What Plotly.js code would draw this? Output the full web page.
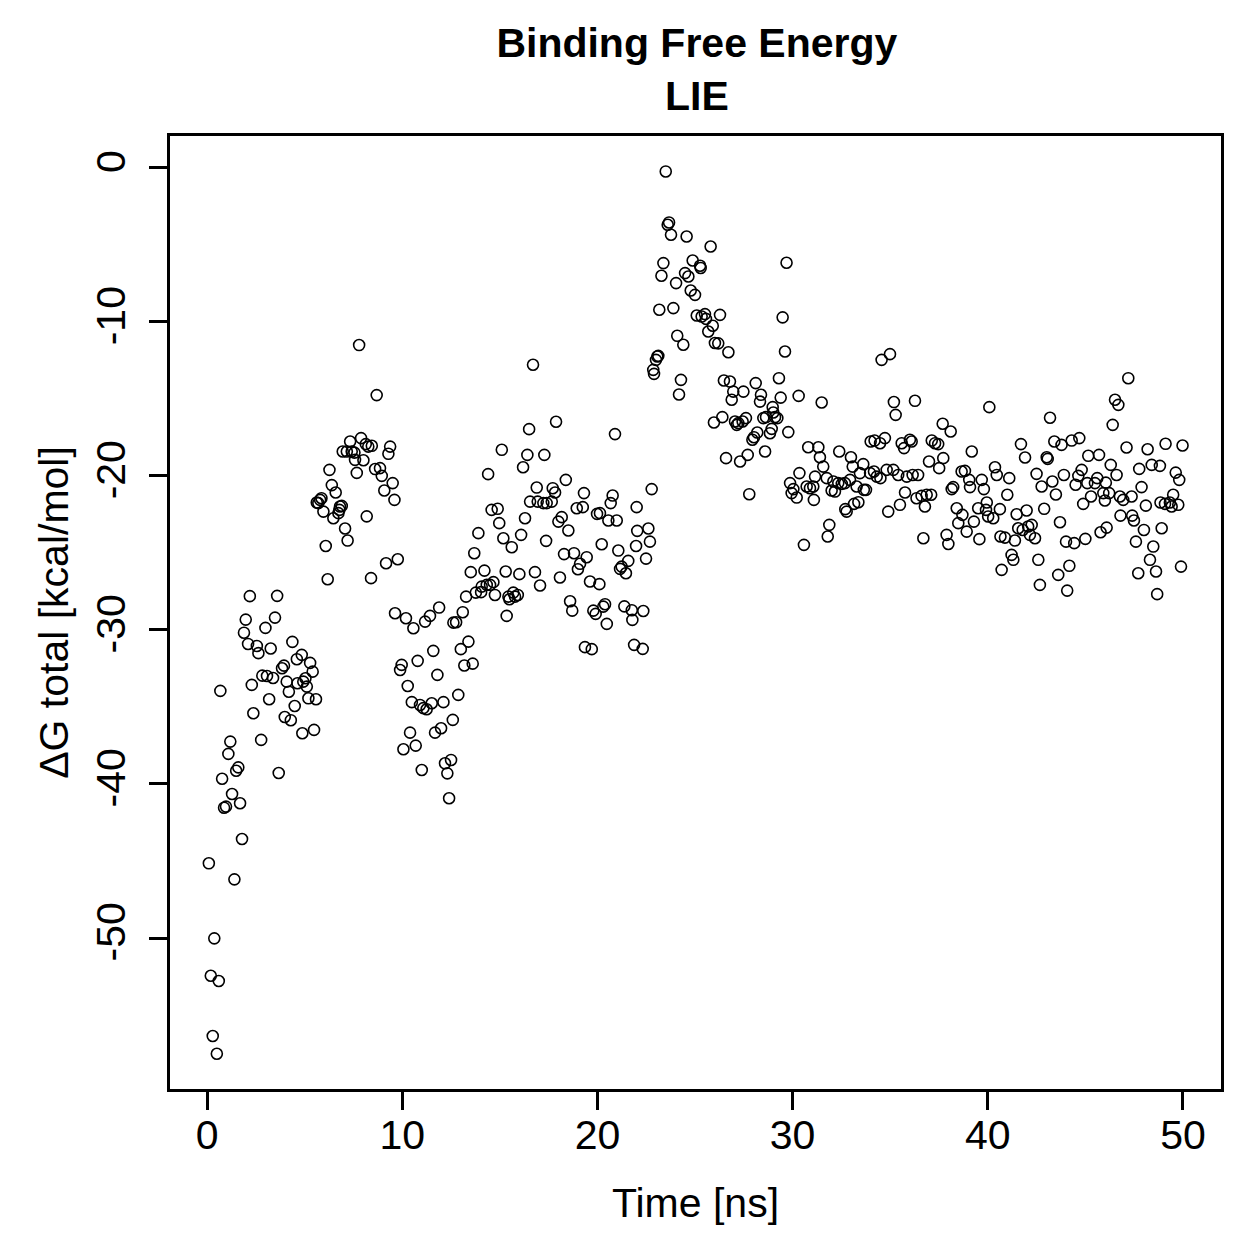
<!DOCTYPE html>
<html>
<head>
<meta charset="utf-8">
<script src="https://cdn.plot.ly/plotly-3.0.1.min.js"></script>
<style>html,body{margin:0;padding:0;background:#fff;}#chart{width:1259px;height:1259px;}</style>
</head>
<body>
<div id="chart"></div>
<script>
// Time [ns]
const time_ns = [
0.09,0.19,0.29,0.37,0.50,0.60,0.68,0.77,0.87,0.97,1.09,1.19,1.28,1.40,1.49,1.60,1.69,1.79,1.89,1.98,
2.10,2.19,2.29,2.37,2.55,2.63,2.77,2.83,2.99,3.07,3.18,3.26,3.38,3.48,3.59,3.67,3.84,3.94,3.98,4.08,
4.19,4.29,4.37,4.49,4.60,4.63,4.85,4.88,4.93,5.04,5.11,5.19,5.28,5.41,5.48,5.58,
5.62,5.70,5.79,5.86,5.96,6.08,6.18,6.27,6.39,6.47,6.59,6.73,6.78,6.81,6.90,6.95,7.07,7.16,7.20,7.33,
7.41,7.55,7.58,7.67,7.79,7.89,8.01,8.13,8.18,8.26,8.40,8.44,8.61,8.69,8.86,8.95,9.08,9.17,9.29,9.38,
9.51,9.60,9.63,9.77,
9.89,9.97,10.06,10.19,10.28,10.40,10.49,10.57,10.69,10.79,10.91,11.00,11.08,11.17,11.25,11.42,11.51,11.59,11.68,11.80,
11.89,11.99,12.11,12.19,12.31,12.40,12.50,12.59,12.62,12.76,12.87,13.00,13.10,13.18,13.27,13.39,13.51,13.61,13.69,13.77,
13.90,14.04,14.07,14.21,14.33,14.40,14.50,14.58,14.67,14.75,14.89,14.97,15.10,15.18,15.30,15.35,15.44,15.49,15.61,15.69,
15.78,15.92,16.00,16.09,16.19,16.29,16.41,16.50,16.55,16.70,16.80,16.89,16.94,17.06,17.23,17.28,17.37,17.40,17.66,17.71,
17.83,17.88,18.00,18.08,18.17,18.29,18.38,18.51,18.60,18.71,18.80,18.94,19.00,19.11,19.25,19.31,19.36,19.45,19.62,19.71,
19.79,19.91,19.98,20.10,20.13,20.22,20.30,20.39,20.48,20.56,20.68,20.78,20.90,20.99,21.07,21.16,21.24,21.38,21.46,21.58,
21.76,21.79,21.88,21.98,22.01,22.04,22.32,22.35,22.49,22.61,22.69,22.78,22.86,22.90,23.00,23.07,23.12,23.17,23.28,23.38,
23.50,23.60,23.67,23.77,23.89,24.03,24.09,24.18,24.28,24.40,24.49,24.57,24.66,24.78,24.88,25.00,25.09,25.26,25.29,25.34,
25.51,25.56,25.68,25.80,25.91,25.97,26.02,26.19,26.28,26.40,26.48,26.59,26.71,26.79,26.88,26.96,27.05,27.14,27.22,27.31,
27.44,27.48,27.61,27.70,27.78,27.94,28.02,28.11,28.19,28.33,28.38,28.50,28.59,28.64,28.84,28.93,28.98,29.01,29.10,29.22,
29.30,29.39,29.49,29.61,29.69,29.78,29.87,29.95,30.04,30.21,30.31,30.35,30.58,30.72,30.80,30.89,31.06,31.09,31.15,31.32,
31.40,31.49,31.57,31.75,31.80,31.88,32.00,32.09,32.17,32.34,32.39,32.52,32.68,32.70,32.77,32.94,32.99,33.08,33.15,33.28,
33.37,33.45,33.62,33.65,33.76,33.97,34.00,34.17,34.20,34.31,34.48,34.50,34.56,34.73,34.82,34.90,34.99,35.16,35.19,35.28,
35.41,35.50,35.59,35.71,35.76,35.85,36.01,36.10,36.15,36.27,36.35,36.43,36.61,36.70,36.78,36.87,36.99,37.13,37.10,37.30,
37.46,37.51,37.69,37.72,37.89,37.98,38.10,38.15,38.23,38.41,38.49,38.66,38.70,38.83,38.92,39.05,39.09,39.18,39.29,39.51,
39.57,39.69,39.80,39.91,39.95,40.02,40.08,40.28,40.37,40.46,40.62,40.65,40.71,40.88,41.00,41.10,41.22,41.31,41.39,41.48,
41.56,41.70,41.79,41.91,41.99,42.07,42.16,42.25,42.42,42.50,42.59,42.67,42.76,42.89,43.02,43.07,43.19,43.31,43.41,43.49,
43.61,43.70,43.78,43.90,44.01,44.07,44.18,44.30,44.43,44.50,44.64,44.69,44.81,44.89,45.00,45.10,45.15,45.29,45.49,45.61,
45.70,45.78,45.92,46.00,46.09,46.05,46.22,46.30,46.40,46.52,46.60,46.69,46.77,46.80,46.94,47.11,47.20,47.37,47.40,47.49,
47.59,47.71,47.76,47.88,48.00,48.10,48.19,48.31,48.40,48.48,48.62,48.68,48.82,48.85,48.91,49.08,49.11,49.33,49.42,49.50,
49.63,49.76,49.81,49.90,49.98
];
// Delta G total [kcal/mol]
const dG_total = [
-45.15,-52.45,-56.36,-50.02,-57.51,-52.79,-33.96,-39.66,-41.54,-41.47,-38.05,-37.25,-40.65,-46.19,-39.14,-38.92,-41.25,-43.57,-30.18,-29.33,
-30.91,-27.81,-33.57,-35.41,-31.04,-31.51,-37.14,-32.97,-29.87,-32.99,-34.50,-31.21,-33.12,-29.20,-27.79,-39.29,-32.49,-32.32,-35.65,-33.36,
-34.01,-35.86,-30.78,-34.94,-31.90,-33.46,-31.62,-36.71,-33.36,-33.14,-33.68,-34.44,-32.14,-32.71,-36.49,-34.50,
-21.73,-21.77,-21.56,-21.45,-22.32,-24.55,-26.71,-19.61,-20.60,-22.75,-21.08,-22.42,-22.21,-21.99,-21.95,-18.42,-23.42,-18.42,-24.20,-17.77,
-18.42,-18.49,-18.96,-19.81,-11.51,-17.55,-18.99,-17.94,-22.63,-18.10,-26.64,-18.05,-19.56,-14.76,-19.50,-20.00,-20.95,-25.67,-18.57,-18.10,
-20.47,-21.56,-28.92,-25.41,
-32.60,-32.27,-37.75,-29.24,-33.64,-36.67,-34.69,-29.89,-37.51,-32.01,-34.87,-39.09,-35.08,-29.46,-35.15,-29.09,-34.76,-31.36,-36.67,-32.92,
-28.55,-36.38,-34.69,-38.66,-39.31,-40.93,-38.44,-35.84,-29.53,-29.50,-34.22,-31.25,-28.85,-32.31,-27.84,-30.76,-26.25,-32.19,-25.02,-27.58,
-23.72,-27.55,-27.19,-26.15,-27.08,-19.89,-27.08,-22.21,-26.90,-27.73,-22.14,-23.07,-18.31,-24.05,-26.21,-29.09,-27.84,-28.01,-24.63,-27.58,
-27.84,-27.73,-26.38,-23.83,-19.44,-22.75,-18.64,-16.97,-21.67,-12.79,-26.25,-20.76,-21.67,-27.12,-21.77,-18.64,-24.22,-21.77,-21.67,-20.80,
-21.08,-16.49,-22.97,-26.60,-22.68,-25.08,-20.26,-23.55,-28.14,-28.75,-25.02,-22.10,-26.06,-25.71,-22.03,-21.12,-31.12,-25.28,-26.86,-31.25,
-28.75,-28.96,-22.47,-27.03,-22.42,-24.44,-28.49,-28.33,-29.61,-22.90,-21.77,-21.28,-17.29,-22.90,-24.85,-26.04,-25.89,-28.47,-26.32,-25.52,
-28.72,-29.35,-30.97,-24.55,-22.03,-23.57,-31.23,-28.77,-25.37,-23.42,-24.27,-20.86,-13.12,-13.38,-12.47,-12.25,-12.21,-9.22,-7.01,-6.19,
-0.24,-3.70,-3.55,-4.35,-9.11,-7.49,-10.91,-14.72,-13.77,-11.49,-6.84,-4.46,-7.06,-7.97,-6.02,-8.25,-9.59,-6.36,-6.51,-9.66,
-9.50,-9.81,-10.63,-5.11,-10.26,-16.54,-11.38,-11.40,-9.55,-16.19,-13.81,-18.85,-11.98,-13.88,-15.06,-14.53,-16.47,-16.69,-16.58,-19.07,
-16.47,-14.53,-16.25,-18.64,-21.19,-17.66,-17.49,-13.98,-17.19,-15.18,-14.74,-16.25,-18.42,-16.19,-17.23,-16.95,-15.54,-15.89,-16.19,-16.25,
-13.66,-14.92,-9.71,-11.93,-6.17,-17.16,-20.47,-21.12,-20.86,-21.41,-14.81,-19.82,-24.48,-20.69,-18.14,-20.80,-20.69,-21.56,-20.05,-18.14,
-18.79,-15.24,-19.40,-20.15,-23.94,-23.18,-20.95,-20.37,-21.02,-20.47,-18.42,-20.52,-20.47,-22.16,-22.32,-20.26,-18.79,-19.40,-21.82,-20.69,
-21.71,-19.82,-19.24,-20.91,-20.91,-19.82,-17.77,-19.72,-17.71,-20.05,-17.88,-20.15,-12.47,-17.55,-19.61,-22.32,-12.10,-19.61,-15.21,-16.04,
-19.94,-21.88,-17.88,-18.20,-21.08,-20.05,-17.66,-17.77,-19.94,-15.13,-21.45,-19.94,-21.30,-24.05,-21.99,-21.23,-19.07,-17.71,-21.23,-17.88,
-17.94,-19.50,-16.62,-18.85,-23.83,-24.42,-17.12,-20.86,-20.73,-22.10,-23.07,-19.72,-22.53,-19.68,-23.62,-20.26,-20.73,-18.42,-22.97,-22.10,
-24.11,-20.26,-20.86,-22.21,-21.73,-22.64,-15.54,-22.75,-19.44,-19.94,-22.16,-23.94,-26.10,-24.01,-21.23,-20.15,-25.13,-25.45,-24.20,-22.49,
-23.40,-17.94,-23.51,-18.81,-22.25,-23.29,-23.83,-23.18,-24.05,-19.87,-25.45,-27.08,-20.69,-22.14,-18.79,-18.90,-16.23,-20.37,-17.77,-21.21,
-26.43,-23.01,-17.99,-19.94,-24.27,-27.45,-25.84,-17.71,-24.37,-20.58,-20.00,-17.55,-19.61,-21.82,-24.09,-20.47,-18.70,-21.34,-20.47,-20.15,
-18.64,-23.66,-21.12,-21.60,-23.36,-20.44,-21.12,-19.29,-16.69,-15.06,-19.94,-15.39,-21.34,-22.58,-21.56,-18.16,-13.66,-21.34,-22.58,-22.90,
-24.27,-26.32,-19.55,-20.73,-23.51,-21.93,-18.27,-25.45,-19.29,-24.59,-26.21,-27.68,-19.35,-21.73,-23.40,-21.82,-17.92,-21.73,-21.99,-21.23,
-19.79,-21.88,-20.26,-25.89,-18.03
];
const x_ticks = [0, 10, 20, 30, 40, 50];
const y_ticks = [0, -10, -20, -30, -40, -50];

const FONT = '"Liberation Sans", Arial, Helvetica, sans-serif';

const trace = {
  x: time_ns,
  y: dG_total,
  type: 'scatter',
  mode: 'markers',
  marker: {symbol: 'circle-open', size: 11, color: '#000', line: {width: 1.6, color: '#000'}},
  hoverinfo: 'x+y'
};

const axisCommon = {
  showgrid: false,
  zeroline: false,
  showline: true,
  linecolor: '#000',
  linewidth: 3,
  mirror: true,
  ticks: 'outside',
  ticklen: 18,
  tickwidth: 3,
  tickcolor: '#000',
  tickfont: {family: FONT, size: 41, color: '#000'},
  tickmode: 'array'
};

const layout = {
  width: 1259,
  height: 1259,
  paper_bgcolor: '#fff',
  plot_bgcolor: '#fff',
  showlegend: false,
  margin: {l: 170, r: 38, t: 136, b: 170, pad: 0},
  title: {
    text: 'Binding Free Energy<br>LIE',
    font: {family: FONT, size: 41, color: '#000', weight: 'bold'},
    x: 0.5535, xref: 'container', xanchor: 'center',
    y: 1 - 57/1259, yref: 'container', yanchor: 'top'
  },
  xaxis: Object.assign({}, axisCommon, {
    range: [-1.9, 51.95],
    tickvals: x_ticks,
    ticktext: x_ticks.map(String),
    ticklabelstandoff: -10,
    title: {text: 'Time [ns]', font: {family: FONT, size: 41, color: '#000'}, standoff: 32}
  }),
  yaxis: Object.assign({}, axisCommon, {
    range: [-59.8, 2.06],
    tickvals: y_ticks,
    ticktext: y_ticks.map(String),
    tickangle: -90,
    ticklabelstandoff: 8,
    title: {text: 'ΔG total [kcal/mol]', font: {family: FONT, size: 41, color: '#000'}, standoff: 7}
  })
};

Plotly.newPlot('chart', [trace], layout, {displayModeBar: false, staticPlot: true});
</script>
</body>
</html>
